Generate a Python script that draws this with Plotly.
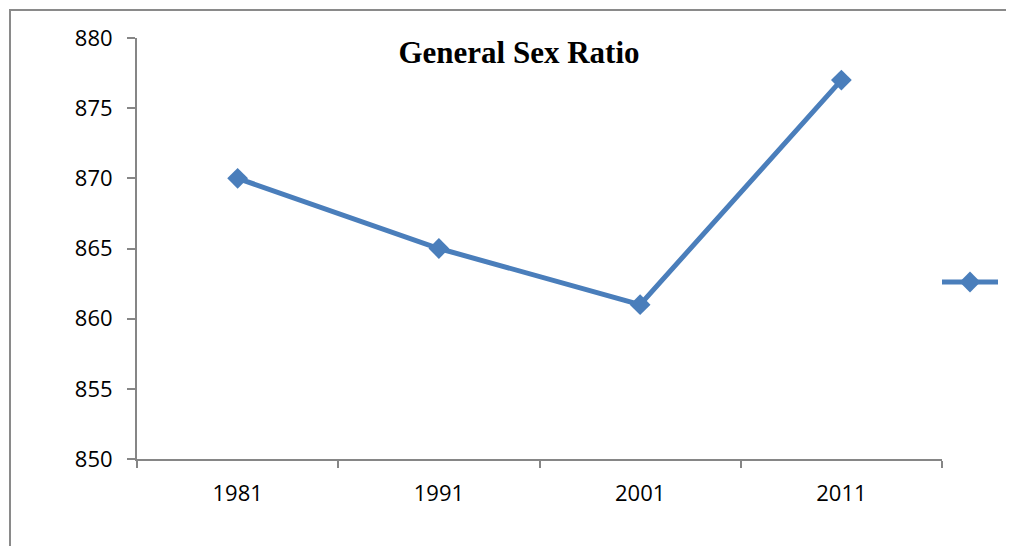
import plotly.graph_objects as go

years = ["1981", "1991", "2001", "2011"]
sex_ratio = [870, 865, 861, 877]
y_ticks = [850, 855, 860, 865, 870, 875, 880]
title_text = "General Sex Ratio"

OFF = 8  # default body margin of the page
W, H = 1014 - OFF, 546 - OFF
L, T = 137 - OFF, 38 - OFF
R = W - (942 - OFF)
B = H - (459 - OFF)
pw, ph = W - L - R, H - T - B

def px_x(p):
    return (p - OFF - L) / pw

def px_y(p):
    return (H - B - (p - OFF)) / ph

fig = go.Figure()
fig.add_trace(go.Scatter(
    x=years, y=sex_ratio, mode="lines+markers", name=" ",
    line=dict(color="#4A7EBB", width=5),
    marker=dict(symbol="diamond", size=16, color="#4A7EBB"),
    showlegend=True,
))

axis_col = "#868686"
fig.update_layout(
    width=W, height=H,
    margin=dict(l=L, r=R, t=T, b=B, autoexpand=False),
    paper_bgcolor="white", plot_bgcolor="white",
    title=dict(text=f"<b>{title_text}</b>", x=px_x(519), xref="paper", xanchor="center",
               y=px_y(52), yref="paper", yanchor="middle",
               font=dict(family="Liberation Serif", size=31, color="black")),
    xaxis=dict(type="category", range=[-0.5, 3.5], tickson="boundaries",
               showline=True, linecolor=axis_col, linewidth=2,
               ticks="outside", ticklen=7, tickcolor=axis_col, tickwidth=2,
               showgrid=False, zeroline=False, ticklabelstandoff=14,
               tickfont=dict(family="Open Sans", size=22, color="black")),
    yaxis=dict(range=[850, 880], tickvals=y_ticks,
               showline=True, linecolor=axis_col, linewidth=2,
               ticks="outside", ticklen=8, tickcolor=axis_col, tickwidth=2,
               showgrid=False, zeroline=False, ticklabelstandoff=10,
               tickfont=dict(family="Open Sans", size=22, color="black")),
    legend=dict(x=px_x(937), xanchor="left", y=px_y(282), yanchor="middle",
                font=dict(size=2), bgcolor="rgba(0,0,0,0)", itemwidth=56),
    shapes=[dict(type="rect", xref="paper", yref="paper",
                 x0=px_x(10), x1=px_x(1040), y0=px_y(10), y1=px_y(570),
                 line=dict(color="#8a8a8a", width=2), layer="below")],
)

fig.write_html("out.html")
